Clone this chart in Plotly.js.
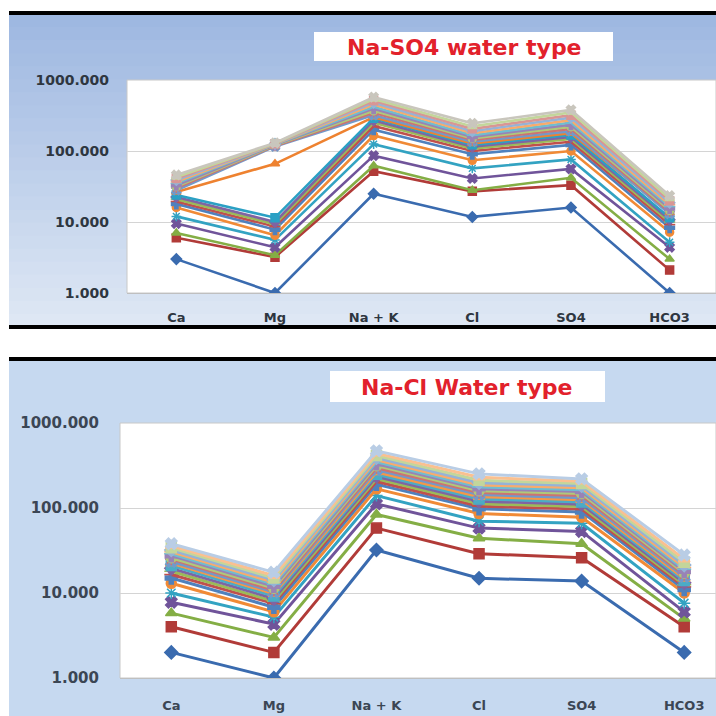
<!DOCTYPE html>
<html><head><meta charset="utf-8">
<script src="https://cdn.plot.ly/plotly-3.0.1.min.js"></script>
<style>html,body{margin:0;padding:0;background:#fff;}#chart{width:716px;height:716px;}</style>
</head><body><div id="chart"></div>
<script>
// ---------- data ----------
const ions = ['Ca', 'Mg', 'Na + K', 'Cl', 'SO4', 'HCO3'];
const yTickVals = [1, 10, 100, 1000];
const yTickText = ['1.000', '10.000', '100.000', '1000.000'];
const titleTop = 'Na-SO4 water type';
const titleBottom = 'Na-Cl Water type';

// Na-SO4 water type samples (meq/l), one value per sample
const so4Ca   = [3, 6, 7, 9.5, 12, 16, 18, 19.5, 21, 22.5, 24, 26.5, 28, 30, 31.5, 33, 35, 37, 39, 41, 43, 46];
const so4Mg   = [1, 3.2, 3.4, 4.4, 5.6, 6.5, 7.8, 8.6, 9.3, 10, 11.5, 66, 116, 118, 120, 122, 124, 125, 126, 127, 128, 130];
const so4NaK  = [25, 52, 62, 86, 125, 165, 200, 225, 250, 270, 290, 300, 320, 345, 370, 395, 420, 450, 480, 510, 540, 575];
const so4Cl   = [11.8, 27, 28, 41, 57, 74, 90, 100, 108, 115, 122, 128, 135, 143, 150, 158, 167, 178, 190, 205, 222, 245];
const so4SO4  = [16, 33, 42, 56, 76, 100, 122, 135, 148, 158, 168, 178, 190, 205, 220, 235, 252, 272, 295, 320, 350, 380];
const so4HCO3 = [1, 2.1, 3, 4.4, 5.2, 7.2, 8.3, 9.2, 10, 10.8, 11.5, 13.5, 13, 13.8, 14.6, 15.5, 16.5, 17.5, 18.7, 20, 21.5, 23.5];

// Na-Cl water type samples (meq/l)
const clCa   = [2, 4, 5.8, 7.8, 10, 13, 15, 16.5, 18, 19.5, 21, 22.5, 23.5, 25, 26, 27.5, 29, 30.5, 32, 34, 36, 38];
const clMg   = [1, 2, 3, 4.3, 5.2, 6, 6.8, 7.5, 8, 8.6, 9.2, 9.8, 10.3, 10.8, 11.4, 12, 12.7, 13.4, 14.2, 15, 16, 17.5];
const clNaK  = [32, 58, 84, 112, 140, 168, 190, 205, 220, 235, 250, 265, 282, 298, 315, 332, 350, 370, 390, 415, 440, 470];
const clCl   = [14.9, 29, 44, 58, 70, 86, 98, 105, 112, 120, 128, 136, 144, 152, 160, 168, 177, 187, 198, 212, 230, 252];
const clSO4  = [13.8, 26, 38, 53, 66, 78, 90, 97, 104, 111, 118, 125, 132, 140, 148, 156, 164, 173, 183, 194, 206, 220];
const clHCO3 = [2, 4, 5, 6, 7.6, 10, 11, 11.8, 12.5, 13.2, 14, 14.8, 15.6, 16.4, 17.2, 18, 19, 20, 21.3, 23, 25, 28];

// ---------- styles ----------
const colorsTop = ['#3A6BAF','#B13B38','#84AE45','#70549A','#33A3C2','#F08A36','#4F81BD','#C0504D','#9BBB59','#8064A2',
                   '#2BA0C4','#EE8230','#729ACA','#CD7371','#AFC97A','#9983B5','#6FBDD1','#F9AB6B','#95B3D7','#D99694','#C3D69B','#C9C6BD'];
const colorsBottom = ['#3A6BAF','#B13B38','#84AE45','#70549A','#33A3C2','#F08A36','#4F81BD','#C0504D','#9BBB59','#8064A2',
                   '#4BACC6','#F79646','#729ACA','#CD7371','#AFC97A','#9983B5','#6FBDD1','#F9AB6B','#95B3D7','#C3D69B','#FAC090','#B9CDE5'];
const symbols = ['diamond','square','triangle-up','x','asterisk','circle','cross','line-ew','line-ew'];

const W = 716, H = 716;
const px = v => v / W;
const py = v => 1 - v / H;

const traces = [];
function addPanel(cols, colors, xa, ya, lw, ms) {
  const n = cols[0].length;
  for (let i = 0; i < n; i++) {
    const c = colors[i % colors.length];
    traces.push({
      type: 'scatter', mode: 'lines+markers',
      x: ions, y: cols.map(a => a[i]),
      xaxis: xa, yaxis: ya,
      line: {color: c, width: lw},
      marker: {symbol: symbols[i % symbols.length], size: ms, color: c, line: {color: c, width: 1.5}},
      showlegend: false, hoverinfo: 'skip'
    });
  }
}
addPanel([so4Ca, so4Mg, so4NaK, so4Cl, so4SO4, so4HCO3], colorsTop, 'x', 'y', 2.6, 8);
addPanel([clCa, clMg, clNaK, clCl, clSO4, clHCO3], colorsBottom, 'x2', 'y2', 3, 10);

// ---------- background shapes ----------
const shapes = [];
// top panel gradient
const bands = 24, y0 = 14, y1 = 327;
const cA = [158, 184, 225], cB = [222, 231, 244];
for (let k = 0; k < bands; k++) {
  const t = k / (bands - 1);
  const c = cA.map((v, j) => Math.round(v + (cB[j] - v) * t));
  shapes.push({type: 'rect', xref: 'paper', yref: 'paper', layer: 'below',
    x0: px(9), x1: 1, y0: py(Math.min(y1, y0 + (y1 - y0) * (k + 1) / bands + 3)), y1: py(y0 + (y1 - y0) * k / bands),
    fillcolor: `rgb(${c[0]},${c[1]},${c[2]})`, line: {width: 0}});
}
// bottom panel bg
shapes.push({type: 'rect', xref: 'paper', yref: 'paper', layer: 'below',
  x0: px(9), x1: 1, y0: 0, y1: py(360), fillcolor: '#C6D9F0', line: {width: 0}});
// black separator lines
[[11, 15], [325, 329], [357, 361]].forEach(([a, b]) => shapes.push({type: 'rect', xref: 'paper', yref: 'paper', layer: 'below',
  x0: px(9), x1: 1, y0: py(b), y1: py(a), fillcolor: '#000000', line: {width: 0}}));
// plot areas
shapes.push({type: 'rect', xref: 'paper', yref: 'paper', layer: 'below',
  x0: px(127), x1: px(716), y0: py(293), y1: py(80), fillcolor: '#FFFFFF', line: {color: '#C8C8C8', width: 1}});
shapes.push({type: 'rect', xref: 'paper', yref: 'paper', layer: 'below',
  x0: px(120), x1: px(716), y0: py(678), y1: py(423), fillcolor: '#FFFFFF', line: {color: '#C8C8C8', width: 1}});
// title boxes
shapes.push({type: 'rect', xref: 'paper', yref: 'paper', layer: 'below',
  x0: px(314), x1: px(613), y0: py(61), y1: py(32), fillcolor: '#FFFFFF', line: {width: 0}});
shapes.push({type: 'rect', xref: 'paper', yref: 'paper', layer: 'below',
  x0: px(330), x1: px(605), y0: py(402), y1: py(371), fillcolor: '#FFFFFF', line: {width: 0}});

const annotations = [
  {text: titleTop, xref: 'paper', yref: 'paper', x: px(464), y: py(47), xanchor: 'center', yanchor: 'middle',
   showarrow: false, font: {family: 'DejaVu Sans', size: 22, color: '#E2212B', weight: 'bold'}},
  {text: titleBottom, xref: 'paper', yref: 'paper', x: px(467), y: py(387), xanchor: 'center', yanchor: 'middle',
   showarrow: false, font: {family: 'DejaVu Sans', size: 22, color: '#E2212B', weight: 'bold'}}
];

const tickFont = {family: 'DejaVu Sans', size: 14, color: '#2E3640', weight: 'bold'};
const xTickFont = {family: 'DejaVu Sans', size: 13, color: '#2E3640', weight: 'bold'};
const yCommon = {type: 'log', range: [0, 3], tickvals: yTickVals, ticktext: yTickText, showgrid: true,
  gridcolor: '#D4D4D4', gridwidth: 1, zeroline: false, ticks: '', showline: false, tickfont: tickFont, fixedrange: true};
const xCommon = {type: 'category', categoryorder: 'array', categoryarray: ions, showgrid: false, zeroline: false,
  ticks: '', showline: true, linecolor: '#BFBFBF', linewidth: 1, tickfont: xTickFont, fixedrange: true};

const layout = {
  width: W, height: H, margin: {l: 0, r: 0, t: 0, b: 0},
  paper_bgcolor: '#FFFFFF', plot_bgcolor: 'rgba(0,0,0,0)',
  showlegend: false, hovermode: false,
  xaxis: Object.assign({}, xCommon, {domain: [px(127), 1], range: [-0.5, 5.47], anchor: 'y', ticklabelstandoff: 12}),
  yaxis: Object.assign({}, yCommon, {domain: [py(293), py(80)], anchor: 'x', ticklabelstandoff: 17}),
  xaxis2: Object.assign({}, xCommon, {domain: [px(120), 1], range: [-0.5, 5.31], anchor: 'y2', ticklabelstandoff: 15,
    tickfont: Object.assign({}, xTickFont, {color: '#3B4654'})}),
  yaxis2: Object.assign({}, yCommon, {domain: [py(678), py(423)], anchor: 'x2', ticklabelstandoff: 20,
    tickfont: Object.assign({}, tickFont, {size: 15, color: '#3B4654'})}),
  shapes: shapes, annotations: annotations
};

Plotly.newPlot('chart', traces, layout, {displayModeBar: false, staticPlot: true});
</script></body></html>
